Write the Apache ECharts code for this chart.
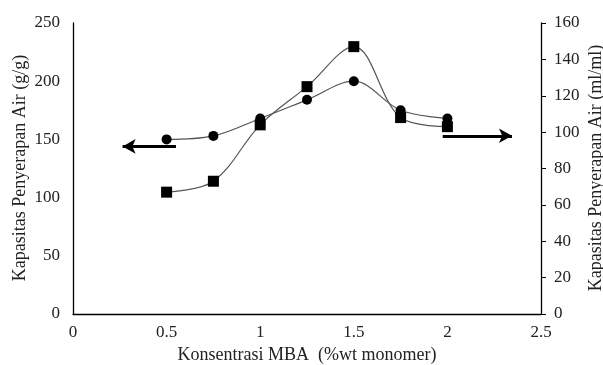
<!DOCTYPE html>
<html>
<head>
<meta charset="utf-8">
<script src="https://cdn.jsdelivr.net/npm/echarts@6/dist/echarts.min.js"></script>
<style>html,body{margin:0;padding:0;background:#fff;}#c{width:603px;height:365px;}</style>
</head>
<body>
<div id="c"></div>
<script>
var xValues = [0.5, 0.75, 1.0, 1.25, 1.5, 1.75, 2.0];
var capacityGG = [150, 153, 168, 184, 200, 175, 168];      // left axis, circles
var capacityMlMl = [67, 73, 104, 125, 147, 108, 103];      // right axis, squares
var leftArrow = [[0.55, 144], [0.265, 144]];
var rightArrow = [[1.975, 98], [2.345, 98]];
var xTitle = 'Konsentrasi MBA  (%wt monomer)';
var leftTitle = 'Kapasitas Penyerapan Air (g/g)';
var rightTitle = 'Kapasitas Penyerapan Air (ml/ml)';

var FONT = '"Liberation Serif", "Times New Roman", serif';
var chart = echarts.init(document.getElementById('c'), null, {renderer: 'canvas'});

function pairs(xs, ys) { return xs.map(function (x, i) { return [x, ys[i]]; }); }

chart.setOption({
  animation: false,
  backgroundColor: '#fff',
  grid: {left: 73, right: 62, top: 23, bottom: 51, containLabel: false, outerBoundsMode: 'none'},
  xAxis: {
    type: 'value', min: 0, max: 2.5, interval: 0.5,
    axisLine: {show: true, lineStyle: {color: '#000', width: 1.3}},
    axisTick: {show: false},
    splitLine: {show: false},
    axisLabel: {color: '#222', fontFamily: FONT, fontSize: 17, margin: 10},
    name: xTitle, nameLocation: 'middle', nameGap: 32,
    nameTextStyle: {color: '#222', fontFamily: FONT, fontSize: 18}
  },
  yAxis: [
    {
      type: 'value', min: 0, max: 250, interval: 50, position: 'left',
      axisLine: {show: true, onZero: false, lineStyle: {color: '#000', width: 1.3}},
      axisTick: {show: false},
      splitLine: {show: false},
      axisLabel: {color: '#222', fontFamily: FONT, fontSize: 17, margin: 13}
    },
    {
      type: 'value', min: 0, max: 160, interval: 20, position: 'right',
      axisLine: {show: true, onZero: false, lineStyle: {color: '#000', width: 1.3}},
      axisTick: {show: true, length: 5, lineStyle: {color: '#000'}},
      splitLine: {show: false},
      axisLabel: {color: '#222', fontFamily: FONT, fontSize: 17, margin: 13}
    }
  ],
  graphic: [
    {type: 'text', x: 20, y: 168, rotation: Math.PI / 2,
     style: {text: leftTitle, font: '18px ' + FONT, fill: '#222', textAlign: 'center', textVerticalAlign: 'middle'}},
    {type: 'text', x: 596, y: 168, rotation: Math.PI / 2,
     style: {text: rightTitle, font: '18px ' + FONT, fill: '#222', textAlign: 'center', textVerticalAlign: 'middle'}}
  ],
  series: [
    {
      type: 'line', yAxisIndex: 0, data: pairs(xValues, capacityGG), smooth: 0.35,
      symbol: 'circle', symbolSize: 10,
      itemStyle: {color: '#000'},
      lineStyle: {color: '#555', width: 1.2},
      markLine: {
        silent: true, symbol: ['none', 'arrow'], symbolSize: [11, 13],
        label: {show: false},
        lineStyle: {color: '#000', width: 3, type: 'solid'},
        data: [[{coord: leftArrow[0]}, {coord: leftArrow[1]}]]
      }
    },
    {
      type: 'line', yAxisIndex: 1, data: pairs(xValues, capacityMlMl), smooth: 0.35,
      symbol: 'rect', symbolSize: 11,
      itemStyle: {color: '#000'},
      lineStyle: {color: '#555', width: 1.2},
      markLine: {
        silent: true, symbol: ['none', 'arrow'], symbolSize: [11, 13],
        label: {show: false},
        lineStyle: {color: '#000', width: 3, type: 'solid'},
        data: [[{coord: rightArrow[0]}, {coord: rightArrow[1]}]]
      }
    }
  ]
});
</script>
</body>
</html>
